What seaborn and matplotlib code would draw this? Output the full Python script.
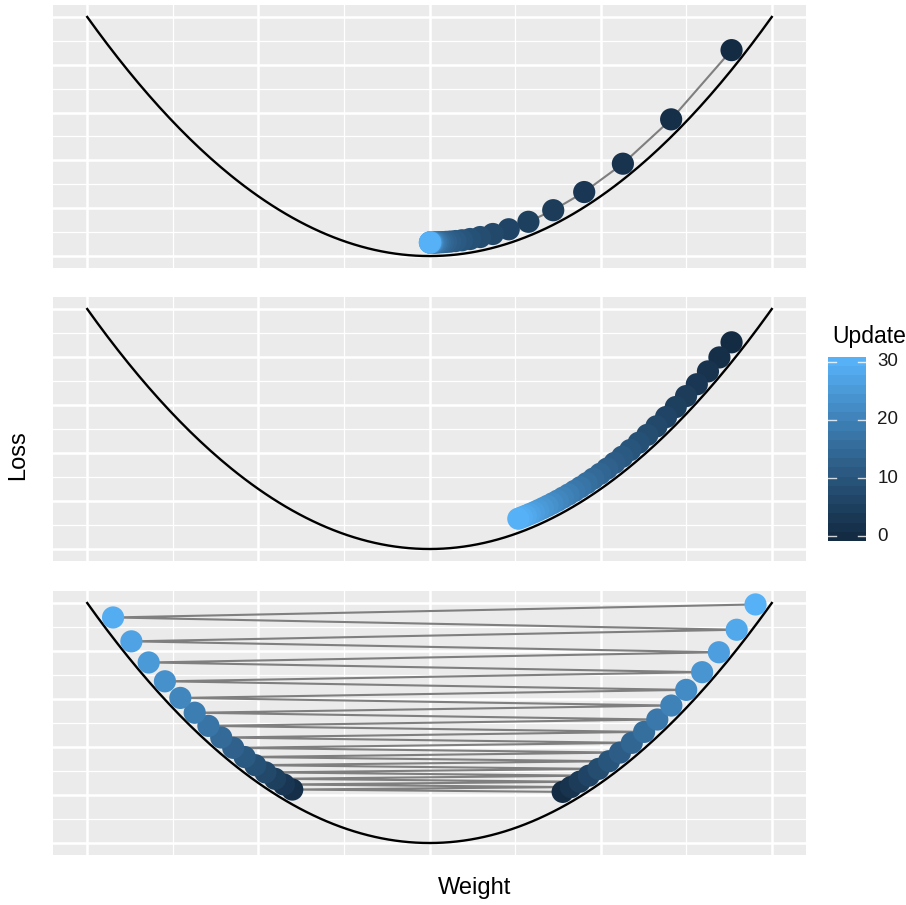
import numpy as np
import pandas as pd
import matplotlib
matplotlib.use("Agg")
import matplotlib.pyplot as plt
from matplotlib.colors import LinearSegmentedColormap, Normalize
import seaborn as sns

# update index, shared by the three runs
updates = list(range(31))

# run 1: converges quickly
weight_fast = [1.765, 1.412, 1.130, 0.904, 0.723, 0.578, 0.463, 0.370, 0.296, 0.237,
               0.190, 0.152, 0.121, 0.097, 0.078, 0.062, 0.050, 0.040, 0.032, 0.025,
               0.020, 0.016, 0.013, 0.010, 0.008, 0.007, 0.005, 0.004, 0.003, 0.003, 0.002]
loss_fast = [3.445, 2.287, 1.545, 1.071, 0.767, 0.573, 0.448, 0.369, 0.318, 0.285,
             0.264, 0.251, 0.242, 0.237, 0.233, 0.231, 0.230, 0.228, 0.228, 0.228,
             0.227, 0.227, 0.227, 0.227, 0.227, 0.227, 0.227, 0.227, 0.227, 0.227, 0.227]

# run 2: slow
weight_slow = [1.765, 1.694, 1.627, 1.562, 1.499, 1.439, 1.382, 1.326, 1.273, 1.222,
               1.173, 1.126, 1.081, 1.038, 0.997, 0.957, 0.919, 0.882, 0.847, 0.813,
               0.780, 0.749, 0.719, 0.690, 0.663, 0.636, 0.611, 0.586, 0.563, 0.540, 0.519]
loss_slow = [3.445, 3.193, 2.960, 2.746, 2.548, 2.366, 2.199, 2.044, 1.902, 1.770,
             1.649, 1.538, 1.435, 1.340, 1.253, 1.173, 1.098, 1.030, 0.967, 0.909,
             0.856, 0.806, 0.761, 0.719, 0.681, 0.645, 0.612, 0.582, 0.554, 0.528, 0.505]

# run 3: overshoots and diverges
weight_big = [0.778, -0.802, 0.826, -0.851, 0.877, -0.903, 0.931, -0.959, 0.988, -1.018,
              1.049, -1.080, 1.113, -1.147, 1.182, -1.217, 1.254, -1.292, 1.331, -1.372,
              1.413, -1.456, 1.500, -1.546, 1.593, -1.641, 1.691, -1.742, 1.795, -1.849, 1.905]
loss_big = [0.852, 0.891, 0.932, 0.975, 1.021, 1.070, 1.122, 1.177, 1.235, 1.297,
            1.363, 1.433, 1.507, 1.586, 1.669, 1.758, 1.852, 1.952, 2.058, 2.171,
            2.291, 2.418, 2.552, 2.695, 2.847, 3.009, 3.179, 3.361, 3.554, 3.759, 3.976]

# loss surface
curve_w = np.linspace(-2, 2, 201)
curve_loss = curve_w ** 2

cmap = LinearSegmentedColormap.from_list("gg", ["#132B43", "#336A98", "#56B1F7"])
norm = Normalize(0, 30)

W, H = 906, 905
fig = plt.figure(figsize=(W / 100, H / 100), dpi=100)
fam = ["Liberation Sans", "DejaVu Sans"]

def box(x0, y0, x1, y1):
    return [x0 / W, 1 - y1 / H, (x1 - x0) / W, (y1 - y0) / H]

panels = [(5, 268, weight_fast, loss_fast),
          (297, 561, weight_slow, loss_slow),
          (591, 855, weight_big, loss_big)]

for top, bot, w, l in panels:
    ax = fig.add_axes(box(53, top, 806, bot))
    ax.set_facecolor("#EBEBEB")
    df = pd.DataFrame({"Weight": w, "Loss": l, "Update": updates})
    ax.plot(curve_w, curve_loss, color="black", lw=1.7, zorder=2)
    sns.lineplot(data=df, x="Weight", y="Loss", sort=False, estimator=None,
                 color="#7F7F7F", lw=1.5, ax=ax, zorder=3)
    sns.scatterplot(data=df, x="Weight", y="Loss", hue="Update", palette=cmap,
                    hue_norm=norm, s=255, linewidth=0, legend=False, ax=ax, zorder=4)
    ax.set_xlim(-2.2, 2.2)
    ax.set_ylim(-0.2, 4.2)
    ax.set_xticks([-2, -1, 0, 1, 2])
    ax.set_xticks([-1.5, -0.5, 0.5, 1.5], minor=True)
    ax.set_yticks(np.arange(0, 4.01, 0.8))
    ax.set_yticks(np.arange(0.4, 4.0, 0.8), minor=True)
    ax.grid(which="major", color="white", lw=1.8)
    ax.grid(which="minor", color="white", lw=0.9)
    ax.set_axisbelow(True)
    ax.tick_params(which="both", length=0, labelbottom=False, labelleft=False)
    for s in ax.spines.values():
        s.set_visible(False)
    ax.set_xlabel("")
    ax.set_ylabel("")

fig.text(18 / W, 1 - 455 / H, "Loss", rotation=90, ha="center", va="center",
         fontsize=17, family=fam)
fig.text(475 / W, 1 - 888 / H, "Weight", ha="center", va="center",
         fontsize=17, family=fam)

# colour bar legend
cax = fig.add_axes(box(828, 357, 866, 541))
lo, hi = -0.86, 30.86
edges = np.linspace(lo, hi, 21)
centers = (edges[:-1] + edges[1:]) / 2
cax.pcolormesh([0, 1], edges, np.clip(centers, 0, 30)[:, None], cmap=cmap, norm=norm)
cax.set_xlim(0, 1)
cax.set_ylim(lo, hi)
cax.axis("off")
for v in [0, 10, 20, 30]:
    cax.plot([0, 0.2], [v, v], color="white", lw=1, alpha=0.8)
    cax.plot([0.8, 1], [v, v], color="white", lw=1, alpha=0.8)
    cax.text(1.3, v, str(v), ha="left", va="center", fontsize=13.5, family=fam,
             color="#1A1A1A")
fig.text(832 / W, 1 - 336 / H, "Update", ha="left", va="center", fontsize=16.5,
         family=fam)

fig.savefig("out.png", dpi=100)
